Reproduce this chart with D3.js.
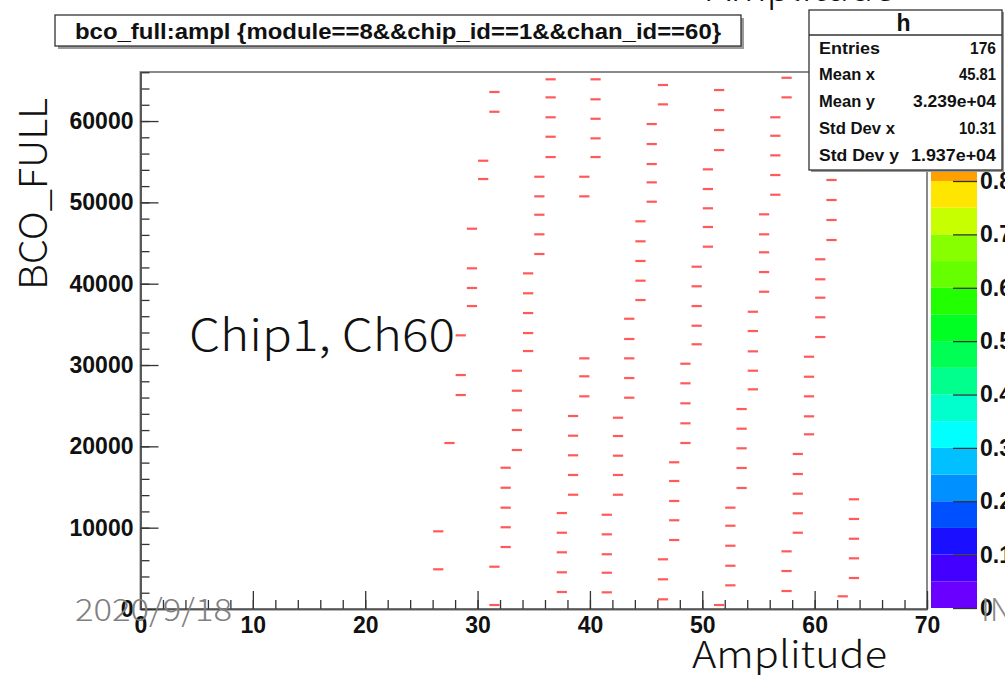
<!DOCTYPE html>
<html>
<head>
<meta charset="utf-8">
<script src="https://cdn.jsdelivr.net/npm/d3@7"></script>
<style>
  html, body { margin: 0; padding: 0; background: #fff; }
  svg { display: block; }
</style>
</head>
<body>
<svg id="chart" width="1005" height="675"></svg>
<script>
// ---------------- data ----------------
const amplValues = [
  26,26, 27, 28,28,28, 29,29,29,29, 30,30, 31,31,31,31,
  32,32,32,32,32, 33,33,33,33,33, 34,34,34,34,34, 35,35,35,35,35,
  36,36,36,36,36, 37,37,37,37,37, 38,38,38,38,38, 39,39,39,39,39,
  40,40,40,40,40, 41,41,41,41,41, 42,42,42,42,42, 43,43,43,43,43,
  44,44,44,44,44, 45,45,45,45,45, 46,46,46,46,46, 47,47,47,47,47,
  48,48,48,48,48, 49,49,49,49,49, 50,50,50,50,50, 51,51,51,51,51,
  52,52,52,52,52, 53,53,53,53,53, 54,54,54,54,54, 55,55,55,55,55,
  56,56,56,56,56, 57,57,57,57,57, 58,58,58,58,58, 59,59,59,59,59,
  60,60,60,60,60, 61,61,61,61, 62, 63,63,63,63,63
];
const bcoValues = [
  9550,4880, 20410, 33650,28770,26310, 46760,41890,39470,37250, 55120,52870, 63570,61140,5200,490,
  17370,14910,12460,10050,7620, 29300,26840,24430,22010,19550, 41270,38820,36390,33930,31720, 53150,50740,48480,46070,43650,
  65130,62910,60460,58070,55570, 11800,9380,6970,4510,2090, 23730,21310,18900,16480,14050, 53150,50740,30820,28610,26150,
  65130,62670,60280,57870,55570, 11590,9180,6730,4460,2050, 23520,21270,18850,16480,14050, 35690,33200,30820,28400,25980,
  47670,45210,42790,40370,37990, 59630,57170,54710,52460,50080, 64430,62050,6110,3650,1190, 18040,15740,13280,10910,8480,
  30160,27750,25290,22830,20410, 42090,39680,37250,34830,32550, 54060,51640,49270,46970,44550, 63810,61350,58890,56430,490,
  12460,10240,7780,5320,2910, 24590,22170,19760,17340,14880, 36550,34180,31680,29300,27010, 48530,46070,43860,41430,39010,
  60460,58190,55780,53360,50940, 65320,62910,7090,4670,2210, 19060,16600,14180,11770,9380, 31020,28560,26150,23690,21480,
  43000,40540,38280,35870,33440, 52750,50290,47830,45370, 1560, 13490,11070,8640,6230,3810
];
const xTickValues = [0, 10, 20, 30, 40, 50, 60, 70];
const yTickValues = [0, 10000, 20000, 30000, 40000, 50000, 60000];
const zTickValues = [0, 0.1, 0.2, 0.3, 0.4, 0.5, 0.6, 0.7, 0.8];
const paletteColors = [
  "#6a00ff","#4400ff","#1a10ff","#0050ff","#0090ff","#00c0ff","#00ffff","#00ffcc",
  "#00ff8c","#00ff55","#00ff22","#22ff00","#66ff00","#88ff00","#c8ff00","#ffe600","#ffa000"
];
const titleText = "bco_full:ampl {module==8&&chip_id==1&&chan_id==60}";
const statsName = "h";
const statLabels = ["Entries", "Mean x", "Mean y", "Std Dev x", "Std Dev y"];
const statValues = ["176", "45.81", "3.239e+04", "10.31", "1.937e+04"];

// ---------------- layout ----------------
const svg = d3.select("#chart");
const frame = {left: 140.5, right: 927, top: 72, bottom: 609};
const x = d3.scaleLinear().domain([0, 70]).range([frame.left, frame.right]);
const y = d3.scaleLinear().domain([0, 66030]).range([frame.bottom, frame.top]);
const z = d3.scaleLinear().domain([0, 0.8]).range([608, 181]);

svg.append("rect").attr("width", 1005).attr("height", 675).attr("fill", "#fff");

// frame
svg.append("rect")
  .attr("x", frame.left).attr("y", frame.top)
  .attr("width", frame.right - frame.left).attr("height", frame.bottom - frame.top)
  .attr("fill", "none").attr("stroke", "#8a8a8a").attr("stroke-width", 2);

// points (dashes spanning one amplitude bin)
const pts = amplValues.map((a, i) => ({a, b: bcoValues[i]}));
svg.append("g").selectAll("line").data(pts).join("line")
  .attr("x1", d => x(d.a) + 0.5)
  .attr("x2", d => x(d.a + 1) - 0.5)
  .attr("y1", d => y(d.b))
  .attr("y2", d => y(d.b))
  .attr("stroke", "#ff3030").attr("stroke-opacity", 0.8).attr("stroke-width", 2.2);

// axes
const tickFont = "'Liberation Sans', Arial, sans-serif";
function styleAxis(g) {
  g.select(".domain").attr("stroke", "#555").attr("stroke-width", 1.5);
  g.selectAll(".tick line").attr("stroke", "#333").attr("stroke-width", 1.3);
  g.selectAll(".tick text").attr("fill", "#111")
    .style("font-family", tickFont).style("font-weight", "bold").style("font-size", "23px");
}
// x minor
svg.append("g").attr("transform", `translate(0,${frame.bottom})`)
  .call(d3.axisBottom(x).tickValues(d3.range(0, 71, 2)).tickSize(-9).tickFormat("").tickSizeOuter(0))
  .call(styleAxis);
// x major
svg.append("g").attr("transform", `translate(0,${frame.bottom})`)
  .call(d3.axisBottom(x).tickValues(xTickValues).tickSize(-18).tickPadding(7).tickSizeOuter(0))
  .call(styleAxis)
  .call(g => g.selectAll(".tick text").attr("dy", "0.75em"));
// y minor
svg.append("g").attr("transform", `translate(${frame.left},0)`)
  .call(d3.axisLeft(y).tickValues(d3.range(0, 66001, 2000)).tickSize(-9).tickFormat("").tickSizeOuter(0))
  .call(styleAxis);
// y major
svg.append("g").attr("transform", `translate(${frame.left},0)`)
  .call(d3.axisLeft(y).tickValues(yTickValues).tickSize(-18).tickPadding(7).tickSizeOuter(0)
        .tickFormat(d3.format("d")))
  .call(styleAxis);

// palette
const palX = 931, palW = 46;
const bandStep = 0.05;
svg.append("g").selectAll("rect").data(paletteColors).join("rect")
  .attr("x", palX)
  .attr("y", (c, i) => z((i + 1) * bandStep))
  .attr("width", palW)
  .attr("height", (c, i) => z(i * bandStep) - z((i + 1) * bandStep))
  .attr("fill", c => c);
const zAxis = svg.append("g").attr("transform", `translate(${palX + palW},0)`)
  .call(d3.axisRight(z).tickValues(zTickValues).tickSize(-24).tickPadding(3).tickSizeOuter(0)
        .tickFormat(d => d === 0 ? "0" : d3.format(".1f")(d)))
  .call(styleAxis);
zAxis.select(".domain").remove();

// title box
const tb = {x: 55, y: 15, w: 686, h: 31};
svg.append("rect").attr("x", tb.x + 3).attr("y", tb.y + 3).attr("width", tb.w).attr("height", tb.h)
  .attr("fill", "#9a9a9a");
svg.append("rect").attr("x", tb.x).attr("y", tb.y).attr("width", tb.w).attr("height", tb.h)
  .attr("fill", "#fff").attr("stroke", "#333").attr("stroke-width", 1.3);
svg.append("text").attr("x", tb.x + tb.w / 2).attr("y", 38.5)
  .attr("text-anchor", "middle")
  .attr("textLength", 646).attr("lengthAdjust", "spacingAndGlyphs")
  .style("font-family", tickFont).style("font-weight", "bold").style("font-size", "22px")
  .attr("fill", "#111").text(titleText);

// overlay texts (slide annotations)
const slideFont = "'Noto Sans CJK JP', 'Noto Sans', sans-serif";
function slideText(xp, yp, str, size, len, color) {
  return svg.append("text").attr("x", xp).attr("y", yp)
    .attr("textLength", len).attr("lengthAdjust", "spacingAndGlyphs")
    .style("font-family", slideFont).style("font-weight", 300).style("font-size", size + "px")
    .attr("fill", color).text(str);
}
slideText(707, 1, "Amplitude", 37, 188, "#111");

// stats box
const sb = {x: 809, y: 10, w: 193, h: 160};
svg.append("rect").attr("x", sb.x + 2).attr("y", sb.y + 2).attr("width", sb.w).attr("height", sb.h)
  .attr("fill", "#999");
svg.append("rect").attr("x", sb.x).attr("y", sb.y).attr("width", sb.w).attr("height", sb.h)
  .attr("fill", "#fff").attr("stroke", "#333").attr("stroke-width", 1.3);
svg.append("line").attr("x1", sb.x).attr("x2", sb.x + sb.w).attr("y1", 35).attr("y2", 35)
  .attr("stroke", "#333").attr("stroke-width", 1.3);
svg.append("text").attr("x", sb.x + sb.w / 2 - 2).attr("y", 31)
  .attr("text-anchor", "middle")
  .style("font-family", tickFont).style("font-weight", "bold").style("font-size", "23px")
  .attr("fill", "#111").text(statsName);
const rowY = [54, 80, 107, 134, 161];
const labelLen = [61, 56, 56, 76, 80];
const valueLen = [26, 37, 83, 37, 85];
statLabels.forEach((l, i) => {
  svg.append("text").attr("x", 819).attr("y", rowY[i])
    .attr("textLength", labelLen[i]).attr("lengthAdjust", "spacingAndGlyphs")
    .style("font-family", tickFont).style("font-weight", "bold").style("font-size", "17px")
    .attr("fill", "#111").text(l);
  svg.append("text").attr("x", 996).attr("y", rowY[i]).attr("text-anchor", "end")
    .attr("textLength", valueLen[i]).attr("lengthAdjust", "spacingAndGlyphs")
    .style("font-family", tickFont).style("font-weight", "bold").style("font-size", "17px")
    .attr("fill", "#111").text(statValues[i]);
});

slideText(692, 668, "Amplitude", 37, 195, "#111");
svg.append("text").attr("transform", "translate(47,194) rotate(-90)")
  .attr("text-anchor", "middle")
  .attr("textLength", 192).attr("lengthAdjust", "spacingAndGlyphs")
  .style("font-family", slideFont).style("font-weight", 300).style("font-size", "39px")
  .attr("fill", "#111").text("BCO_FULL");
slideText(189, 351, "Chip1, Ch60", 44, 266, "#111");
slideText(75, 621, "2020/9/18", 31, 157, "#808080");
slideText(981, 621, "INTT", 31, 70, "#8a8a8a");
</script>
</body>
</html>
